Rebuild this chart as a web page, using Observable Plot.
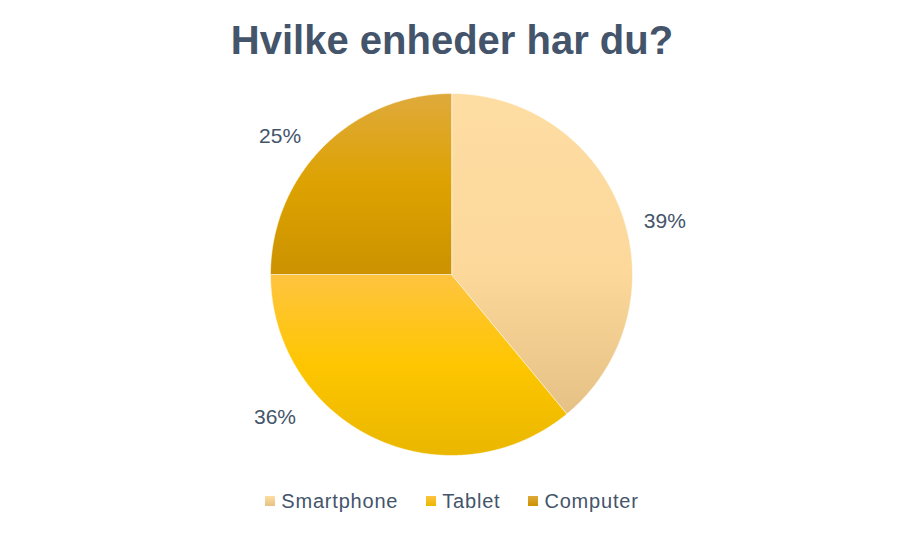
<!DOCTYPE html>
<html>
<head>
<meta charset="utf-8">
<script src="https://cdn.jsdelivr.net/npm/d3@7"></script>
<script src="https://cdn.jsdelivr.net/npm/@observablehq/plot@0.6"></script>
<style>
  html, body { margin: 0; padding: 0; background: #fff; }
  #wrap { position: relative; width: 900px; height: 535px; font-family: "Liberation Sans", Arial, sans-serif; color: #44546A; }
  #title { position: absolute; left: 0; top: 12px; width: 900px; text-align: center; font-weight: bold; font-size: 40px; line-height: 56px; padding-left: 2px; }
  #chart { position: absolute; left: 0; top: 75px; }
  #legend { position: absolute; left: 0; top: 488px; width: 900px; display: flex; justify-content: center; align-items: center; font-size: 20px; line-height: 26px; padding-left: 2px; letter-spacing: 0.8px; }
  .item { display: flex; align-items: center; margin: 0 14px; }
  .sw { width: 10px; height: 10px; margin-right: 6px; }
</style>
</head>
<body>
<div id="wrap">
  <div id="title">Hvilke enheder har du?</div>
  <div id="chart"></div>
  <div id="legend"></div>
</div>
<script>
// ---- data ----
const categories = ["Smartphone", "Tablet", "Computer"];
const shares = [39, 36, 25];
const labels = ["39%", "36%", "25%"];

// ---- styles / layout ----
const gradients = [
  [["0%", "#FEDDA3"], ["55%", "#FCD89B"], ["100%", "#E6C185"]],
  [["0%", "#FFC440"], ["50%", "#FEC600"], ["100%", "#EAB700"]],
  [["0%", "#DFAA3C"], ["50%", "#DDA200"], ["100%", "#CC9200"]]
];
const W = 900, H = 410, R = 181, CX = 451, CY = 199;
const labelNudgeDeg = [5.7, 25.9, -6.2];   // Excel moved labels off the mid-angle
const labelRadius = [1.215, 1.253, 1.215];

// ---- geometry from the data ----
const pie = d3.pie().sort(null).value(d => d.value)(categories.map((c, i) => ({cat: c, value: shares[i], i})));
const slices = pie.map(p => {
  const pts = [{x: 0, y: 0}];
  const n = Math.max(2, Math.ceil((p.endAngle - p.startAngle) / (Math.PI / 360)));
  for (let k = 0; k <= n; k++) {
    const a = p.startAngle + (p.endAngle - p.startAngle) * k / n;
    pts.push({x: Math.sin(a), y: Math.cos(a)});
  }
  return {i: p.data.i, pts};
});
const labelData = pie.map((p, i) => {
  const a = (p.startAngle + p.endAngle) / 2 + labelNudgeDeg[i] * Math.PI / 180;
  return {x: labelRadius[i] * Math.sin(a), y: labelRadius[i] * Math.cos(a), text: labels[i]};
});

const svgNS = "http://www.w3.org/2000/svg";
function defs() {
  const d = document.createElementNS(svgNS, "defs");
  gradients.forEach((stops, i) => {
    const g = document.createElementNS(svgNS, "linearGradient");
    g.setAttribute("id", "g" + i);
    g.setAttribute("x1", "0"); g.setAttribute("y1", "0");
    g.setAttribute("x2", "0"); g.setAttribute("y2", "1");
    stops.forEach(([o, c]) => {
      const s = document.createElementNS(svgNS, "stop");
      s.setAttribute("offset", o); s.setAttribute("stop-color", c);
      g.appendChild(s);
    });
    d.appendChild(g);
  });
  return d;
}

const plot = Plot.plot({
  width: W, height: H,
  margin: 0,
  x: {domain: [-CX / R, (W - CX) / R], axis: null},
  y: {domain: [-(H - CY) / R, CY / R], axis: null},
  style: {background: "transparent", fontFamily: "'Liberation Sans', Arial, sans-serif"},
  marks: [
    defs,
    ...slices.map(s => Plot.line(s.pts, {
      x: "x", y: "y", curve: "linear-closed",
      fill: `url(#g${s.i})`, stroke: "#ffffff", strokeOpacity: 0.55, strokeWidth: 1
    })),
    Plot.text(labelData, {x: "x", y: "y", text: "text", fontSize: 21, fill: "#44546A", textAnchor: "middle", lineAnchor: "middle"})
  ]
});
document.getElementById("chart").appendChild(plot);

const leg = document.getElementById("legend");
categories.forEach((c, i) => {
  const it = document.createElement("div"); it.className = "item";
  const sw = document.createElement("div"); sw.className = "sw";
  sw.style.background = `linear-gradient(${gradients[i][0][1]}, ${gradients[i][2][1]})`;
  const t = document.createElement("span"); t.textContent = c;
  it.appendChild(sw); it.appendChild(t); leg.appendChild(it);
});
</script>
</body>
</html>
